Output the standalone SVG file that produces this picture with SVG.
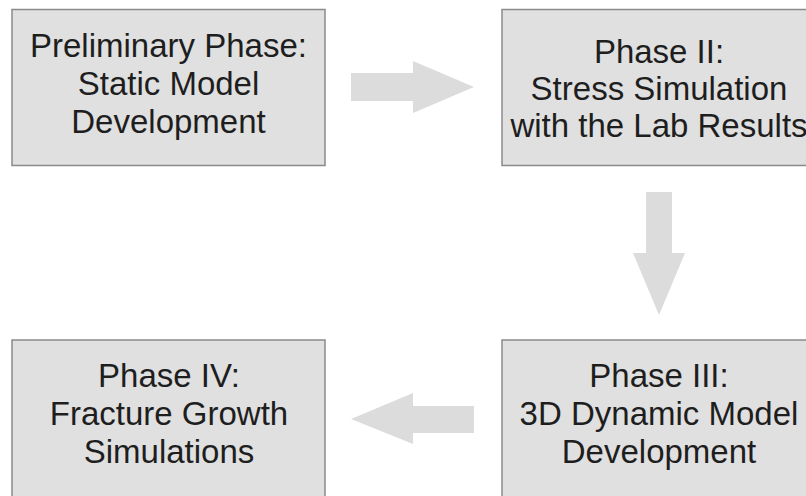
<svg xmlns="http://www.w3.org/2000/svg" width="806" height="496" viewBox="0 0 806 496">
<style>
.box{fill:#e0e0e0;stroke:#8a8a8a;stroke-width:1.5}
.lbl{font-family:"Liberation Sans",Arial,sans-serif;font-size:33px;fill:#1e1e1e;text-anchor:middle}
.arr{fill:#dcdcdc;stroke:none}
</style>
<rect width="806" height="496" fill="#ffffff"/>
<g id="node-prelim">
<rect class="box" x="12" y="9.5" width="313" height="156"/>
<text class="lbl" x="168.5" y="57">Preliminary Phase:</text>
<text class="lbl" x="168.5" y="95">Static Model</text>
<text class="lbl" x="168.5" y="133">Development</text>
</g>
<g id="node-phase2">
<rect class="box" x="502" y="9.5" width="313" height="156"/>
<text class="lbl" x="659" y="63">Phase II:</text>
<text class="lbl" x="659" y="100">Stress Simulation</text>
<text class="lbl" x="659" y="137">with the Lab Results</text>
</g>
<g id="node-phase3">
<rect class="box" x="502" y="340" width="313" height="160"/>
<text class="lbl" x="659" y="387">Phase III:</text>
<text class="lbl" x="659" y="425">3D Dynamic Model</text>
<text class="lbl" x="659" y="463">Development</text>
</g>
<g id="node-phase4">
<rect class="box" x="12" y="340" width="313" height="160"/>
<text class="lbl" x="169" y="387">Phase IV:</text>
<text class="lbl" x="169" y="425">Fracture Growth</text>
<text class="lbl" x="169" y="463">Simulations</text>
</g>
<g id="connectors">
<polygon class="arr" points="351,73 413,73 413,61 474,87 413,113 413,101 351,101"/>
<polygon class="arr" points="646,192 672,192 672,253 685,253 659,315 633,253 646,253"/>
<polygon class="arr" points="474,406 413,406 413,393 351,419 413,444 413,433 474,433"/>
</g>
</svg>
